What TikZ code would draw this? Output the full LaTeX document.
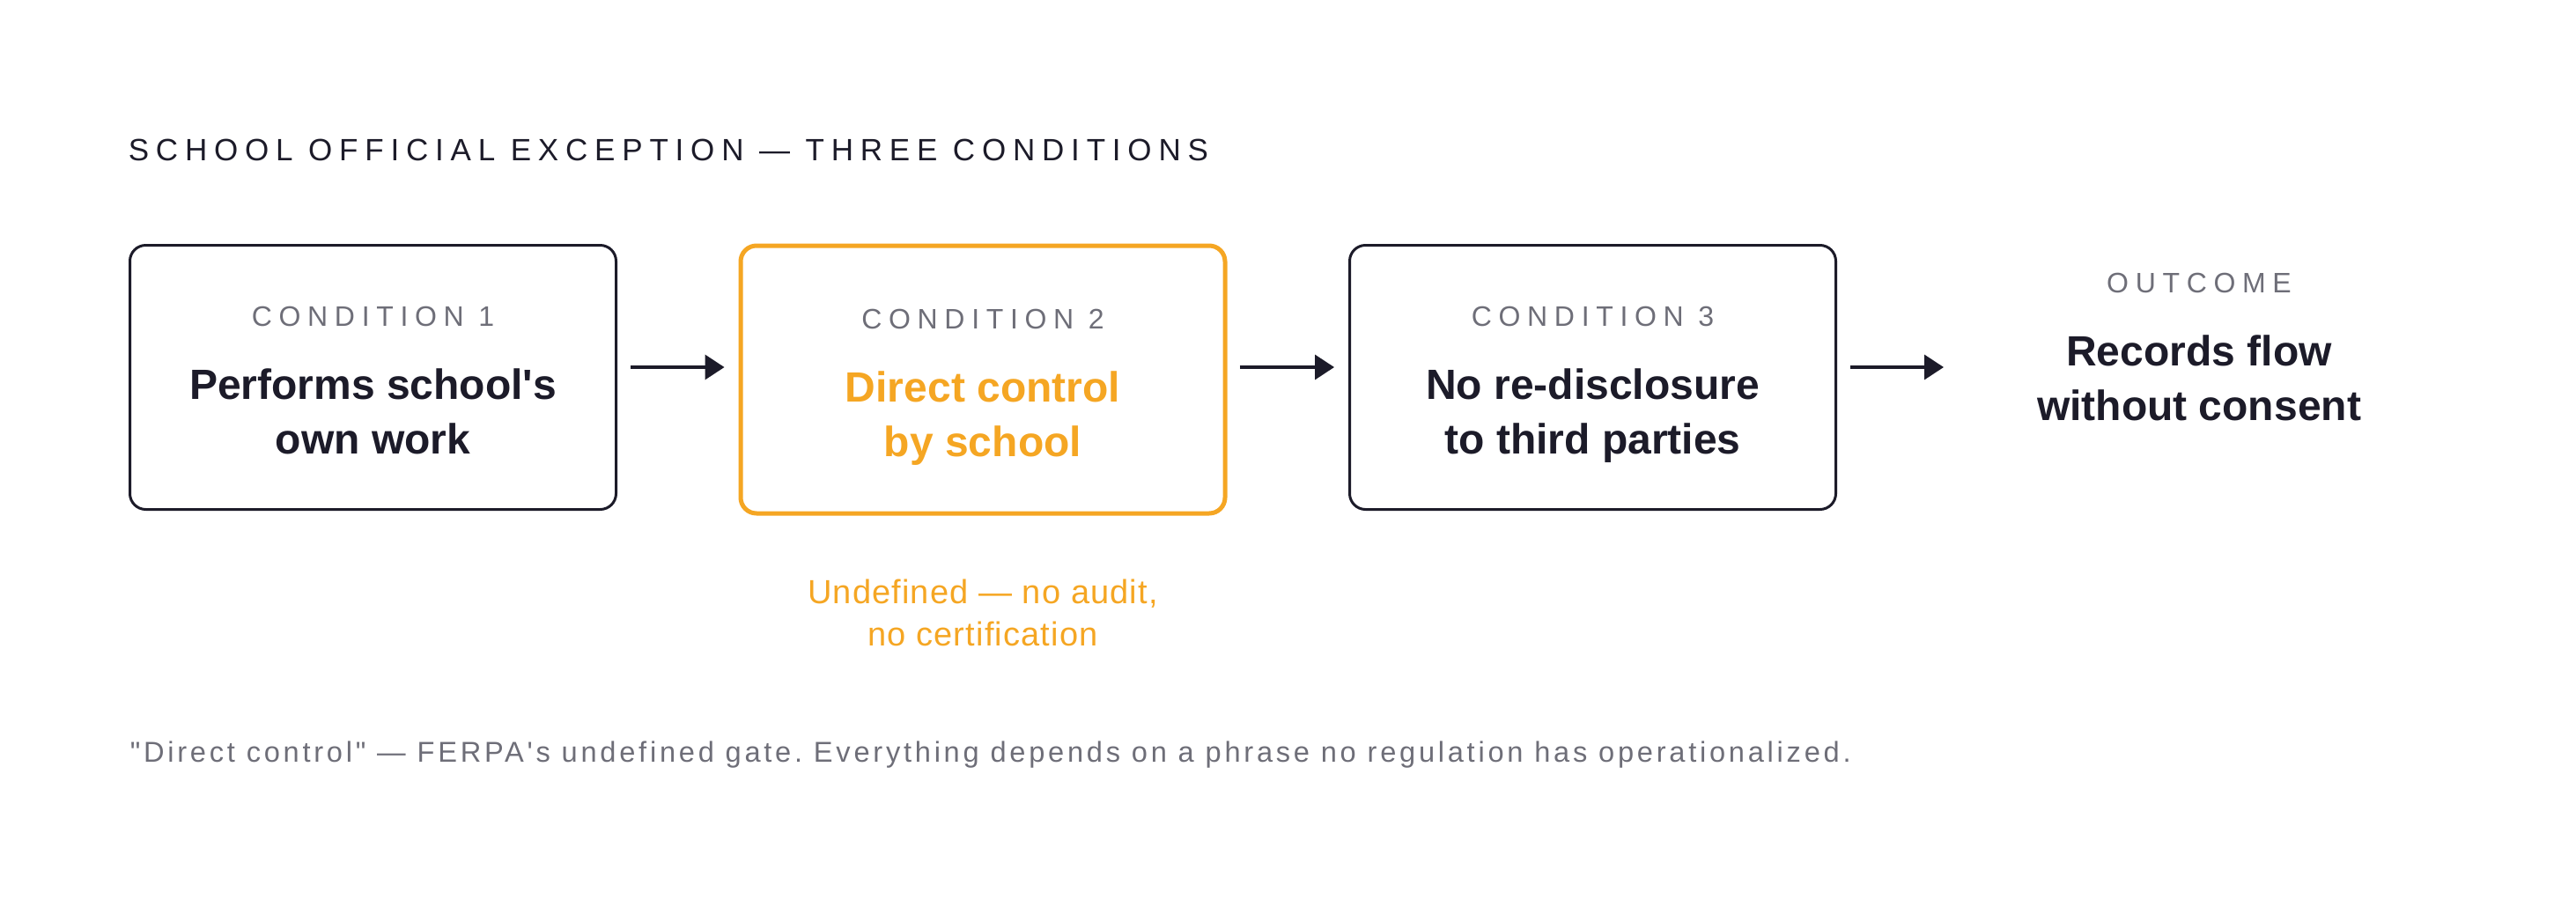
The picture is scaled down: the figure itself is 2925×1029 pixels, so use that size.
\documentclass[tikz,border=0pt]{standalone}
\usepackage{fontspec}
\usetikzlibrary{arrows.meta}
\newfontfamily\ui{Liberation Sans}
\definecolor{ink}{HTML}{1C1B29}
\definecolor{mute}{HTML}{6E6E78}
\definecolor{amber}{HTML}{F5A623}
\frenchspacing
\begin{document}
\begin{tikzpicture}[x=0.25pt,y=-0.25pt,>={Triangle[length=5.5pt,width=7pt]},
    cond/.style={draw=ink,line width=0.75pt,rounded corners=4.5pt,minimum width=138pt,minimum height=75pt,inner sep=0pt},
    tag/.style={anchor=base,inner sep=0pt,text=mute,font=\ui\fontsize{8pt}{10pt}\selectfont\addfontfeature{LetterSpace=24}},
    big/.style={anchor=base,inner sep=0pt,align=center,text=ink,font=\ui\bfseries\fontsize{12pt}{15.5pt}\selectfont},
    flow/.style={->,draw=ink,line width=0.85pt}]
  \useasboundingbox (0,0) rectangle (2925,1029);
  \node[anchor=base west,inner sep=0pt,text=ink,font=\ui\fontsize{8.75pt}{10pt}\selectfont\addfontfeature{LetterSpace=22.3}] (head) at (145,182) {SCHOOL OFFICIAL EXCEPTION — THREE CONDITIONS};
  % the three conditions
  \node[cond] (c1) at (423.5,428.5) {};
  \node[cond,draw=amber,line width=1.25pt,minimum width=137.5pt,minimum height=76pt] (c2) at (1116,431) {};
  \node[cond] (c3) at (1808.5,428.5) {};
  \node[tag] (t1) at (423.5,370) {CONDITION 1};
  \node[tag] (t2) at (1116,373) {CONDITION 2};
  \node[tag] (t3) at (1808.5,370) {CONDITION 3};
  \node[big] (b1) at (423.5,515) {Performs school's\\own work};
  \node[big,text=amber] (b2) at (1116,518) {Direct control\\by school};
  \node[big] (b3) at (1808.5,515) {No re-disclosure\\to third parties};
  % outcome
  \node[tag] (t4) at (2497,332) {OUTCOME};
  \node[big] (b4) at (2497,477) {Records flow\\without consent};
  \coordinate (goal) at (2207,417);
  \draw[flow,shorten <=3.75pt,shorten >=4pt] ([yshift=2.875pt]c1.east) -- ([yshift=2.875pt]c1.east -| c2.west);
  \draw[flow,shorten <=3.6pt,shorten >=4pt] ([yshift=2.875pt]c1.east -| c2.east) -- ([yshift=2.875pt]c1.east -| c3.west);
  \draw[flow,shorten <=3.75pt] ([yshift=2.875pt]c3.east) -- (goal);
  % notes
  \node[anchor=base,inner sep=0pt,align=center,text=amber,font=\ui\fontsize{9.5pt}{12pt}\selectfont\addfontfeature{LetterSpace=3}] (gap) at (1116,733) {Undefined — no audit,\\no certification};
  \node[anchor=base west,inner sep=0pt,text=mute,font=\ui\fontsize{8.15pt}{10pt}\selectfont\addfontfeature{LetterSpace=11.5}] (foot) at (147,865) {"Direct control" — FERPA's undefined gate. Everything depends on a phrase no regulation has operationalized.};
\end{tikzpicture}
\end{document}
